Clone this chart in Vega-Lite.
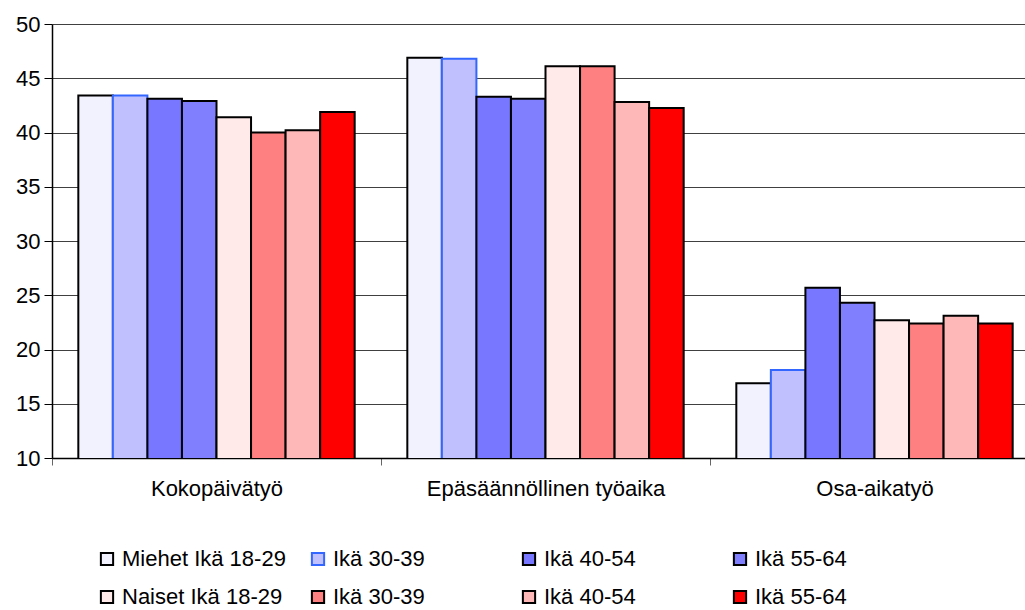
{
  "$schema": "https://vega.github.io/schema/vega-lite/v6.json",
  "autosize": {"type": "none"},
  "width": 973,
  "height": 434,
  "padding": {"left": 52, "top": 24, "right": 0, "bottom": 152},
  "background": "white",
  "config": {
    "font": "Liberation Sans",
    "view": {"stroke": null}
  },
  "data": {
    "values": [
      {"group": "Kokopäivätyö", "series": "Miehet Ikä 18-29", "value": 43.4},
      {"group": "Kokopäivätyö", "series": "Miehet Ikä 30-39", "value": 43.4},
      {"group": "Kokopäivätyö", "series": "Miehet Ikä 40-54", "value": 43.1},
      {"group": "Kokopäivätyö", "series": "Miehet Ikä 55-64", "value": 42.9},
      {"group": "Kokopäivätyö", "series": "Naiset Ikä 18-29", "value": 41.4},
      {"group": "Kokopäivätyö", "series": "Naiset Ikä 30-39", "value": 40.0},
      {"group": "Kokopäivätyö", "series": "Naiset Ikä 40-54", "value": 40.2},
      {"group": "Kokopäivätyö", "series": "Naiset Ikä 55-64", "value": 41.9},
      {"group": "Epäsäännöllinen työaika", "series": "Miehet Ikä 18-29", "value": 46.9},
      {"group": "Epäsäännöllinen työaika", "series": "Miehet Ikä 30-39", "value": 46.8},
      {"group": "Epäsäännöllinen työaika", "series": "Miehet Ikä 40-54", "value": 43.3},
      {"group": "Epäsäännöllinen työaika", "series": "Miehet Ikä 55-64", "value": 43.1},
      {"group": "Epäsäännöllinen työaika", "series": "Naiset Ikä 18-29", "value": 46.1},
      {"group": "Epäsäännöllinen työaika", "series": "Naiset Ikä 30-39", "value": 46.1},
      {"group": "Epäsäännöllinen työaika", "series": "Naiset Ikä 40-54", "value": 42.8},
      {"group": "Epäsäännöllinen työaika", "series": "Naiset Ikä 55-64", "value": 42.25},
      {"group": "Osa-aikatyö", "series": "Miehet Ikä 18-29", "value": 16.9},
      {"group": "Osa-aikatyö", "series": "Miehet Ikä 30-39", "value": 18.1},
      {"group": "Osa-aikatyö", "series": "Miehet Ikä 40-54", "value": 25.7},
      {"group": "Osa-aikatyö", "series": "Miehet Ikä 55-64", "value": 24.3},
      {"group": "Osa-aikatyö", "series": "Naiset Ikä 18-29", "value": 22.7},
      {"group": "Osa-aikatyö", "series": "Naiset Ikä 30-39", "value": 22.4},
      {"group": "Osa-aikatyö", "series": "Naiset Ikä 40-54", "value": 23.1},
      {"group": "Osa-aikatyö", "series": "Naiset Ikä 55-64", "value": 22.4}
    ]
  },
  "mark": {"type": "bar", "strokeWidth": 2, "clip": true},
  "encoding": {
    "x": {
      "field": "group",
      "type": "nominal",
      "sort": ["Kokopäivätyö", "Epäsäännöllinen työaika", "Osa-aikatyö"],
      "scale": {"range": [0, 987], "paddingInner": 0, "paddingOuter": 0},
      "axis": {
        "title": null,
        "labelAngle": 0,
        "labelFontSize": 22,
        "labelColor": "#000",
        "labelPadding": 13,
        "labelLimit": 500,
        "tickBand": "extent",
        "tickSize": 7,
        "tickColor": "#666",
        "domainColor": "#000",
        "domainWidth": 1.5,
        "grid": false
      }
    },
    "xOffset": {
      "field": "series",
      "type": "nominal",
      "scale": {"paddingInner": 0, "paddingOuter": 0.762}
    },
    "y": {
      "field": "value",
      "type": "quantitative",
      "scale": {"domain": [10, 50], "zero": false, "nice": false},
      "axis": {
        "title": null,
        "values": [10, 15, 20, 25, 30, 35, 40, 45, 50],
        "labelFontSize": 22,
        "labelColor": "#000",
        "labelPadding": 4,
        "tickSize": 8,
        "tickColor": "#000",
        "domainColor": "#000",
        "domainWidth": 1.5,
        "grid": true,
        "gridColor": "#404040",
        "gridWidth": 1
      }
    },
    "fill": {
      "field": "series",
      "type": "nominal",
      "scale": {
        "domain": ["Miehet Ikä 18-29", "Miehet Ikä 30-39", "Miehet Ikä 40-54", "Miehet Ikä 55-64", "Naiset Ikä 18-29", "Naiset Ikä 30-39", "Naiset Ikä 40-54", "Naiset Ikä 55-64"],
        "range": ["#F2F2FF", "#C0C0FF", "#7777FF", "#8080FF", "#FFE9E9", "#FF8080", "#FFB8B8", "#FF0000"]
      },
      "legend": {
        "title": null,
        "orient": "none",
        "legendX": 44,
        "legendY": 524,
        "direction": "horizontal",
        "columns": 4,
        "gridAlign": "all",
        "columnPadding": 21,
        "rowPadding": 16,
        "padding": 0,
        "symbolType": "square",
        "symbolSize": 150,
        "symbolStrokeWidth": 2,
        "symbolOpacity": 1,
        "labelFontSize": 22,
        "labelColor": "#000",
        "labelOffset": 4,
        "labelLimit": 300,
        "labelExpr": "indexof(datum.label, 'Ikä 18-29') >= 0 ? datum.label : replace(replace(datum.label, 'Miehet ', ''), 'Naiset ', '')"
      }
    },
    "stroke": {
      "field": "series",
      "type": "nominal",
      "scale": {
        "domain": ["Miehet Ikä 18-29", "Miehet Ikä 30-39", "Miehet Ikä 40-54", "Miehet Ikä 55-64", "Naiset Ikä 18-29", "Naiset Ikä 30-39", "Naiset Ikä 40-54", "Naiset Ikä 55-64"],
        "range": ["#000000", "#3366FF", "#000000", "#000000", "#000000", "#000000", "#000000", "#000000"]
      },
      "legend": null
    }
  }
}
